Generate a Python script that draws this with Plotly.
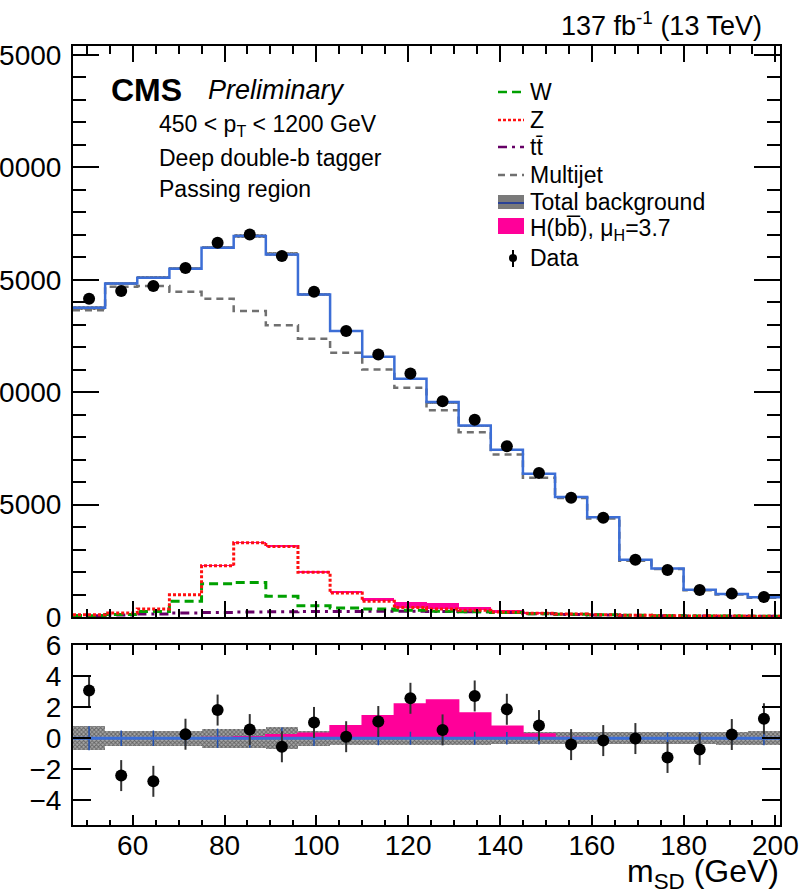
import numpy as np
import plotly.graph_objects as go

# ---------------------------------------------------------------------------
# Soft-drop jet mass binning (GeV) and per-bin contents
# ---------------------------------------------------------------------------
bin_edges = [47, 54, 61, 68, 75, 82, 89, 96, 103, 110, 117, 124,
             131, 138, 145, 152, 159, 166, 173, 180, 187, 194, 201]

data_counts = [14160, 14500, 14720, 15520, 16650, 17020, 16060, 14470, 12720, 11680, 10830,
               9600, 8770, 7600, 6410, 5300, 4410, 2550, 2090, 1200, 1040, 890]

total_bkg = [13760, 14830, 15090, 15490, 16430, 16950, 16130, 14350, 12720, 11580, 10600,
             9560, 8520, 7440, 6370, 5340, 4440, 2550, 2160, 1215, 1025, 875]

multijet = [13650, 14690, 14720, 14470, 14160, 13610, 12980, 12380, 11750, 11010, 10200,
            9200, 8220, 7230, 6190, 5290, 4380, 2500, 2130, 1190, 1005, 860]

# stacked electroweak / top contributions (cumulative levels as drawn)
z_stack = [100, 180, 360, 990, 2280, 3300, 3140, 1990, 1070, 700, 420,
           360, 300, 220, 170, 130, 100, 80, 60, 50, 40, 35]
w_stack = [60, 110, 240, 700, 1480, 1540, 920, 500, 400, 360, 300,
           260, 230, 200, 150, 120, 100, 80, 60, 50, 40, 30]
ttbar_stack = [60, 90, 130, 180, 200, 220, 230, 240, 250, 260, 260,
               250, 230, 200, 150, 110, 90, 70, 55, 45, 35, 30]

# H(bb) signal yield, stacked on top of the Z contribution
higgs_events = [0, 0, 0, 0, 5, 12, 25, 40, 90, 160, 250,
                260, 160, 80, 25, 5, 0, 0, 0, 0, 0, 0]

# lower panel: (data - bkg) / sigma
pulls = [3.08, -2.41, -2.78, 0.26, 1.82, 0.56, -0.55, 1.02, 0.10, 1.08, 2.58,
         0.54, 2.73, 1.87, 0.82, -0.41, -0.15, -0.02, -1.24, -0.72, 0.24, 1.26]
higgs_pull = [0, 0, 0, 0, 0.05, 0.10, 0.22, 0.33, 0.80, 1.45, 2.21,
              2.47, 1.63, 0.78, 0.28, 0.05, 0, 0, 0, 0, 0, 0]
bkg_unc_pull = [0.78, 0.50, 0.50, 0.50, 0.62, 0.62, 0.70, 0.50, 0.45, 0.45, 0.42,
                0.42, 0.42, 0.40, 0.40, 0.40, 0.40, 0.40, 0.38, 0.40, 0.42, 0.45]

x_ticks = [60, 80, 100, 120, 140, 160, 180, 200]
top_y_ticks = [0, 5000, 10000, 15000, 20000, 25000]
ratio_y_ticks = [-4, -2, 0, 2, 4, 6]

# ---------------------------------------------------------------------------
edges = np.array(bin_edges, dtype=float)
centers = 0.5 * (edges[:-1] + edges[1:])
widths = np.diff(edges)
data_arr = np.array(data_counts, dtype=float)
total_arr = np.array(total_bkg, dtype=float)
unc_arr = np.array(bkg_unc_pull)
top_band = unc_arr * np.sqrt(data_arr)

W_PX, H_PX = 799, 893
M_L, M_R, M_T, M_B = 73, 19, 46, 68
PLOT_W = W_PX - M_L - M_R
PLOT_H = H_PX - M_T - M_B


def px(x):
    return (x - M_L) / PLOT_W


def py(y):
    return (H_PX - M_B - y) / PLOT_H


FONT = "Liberation Sans, Arial, Helvetica, sans-serif"
BLUE = "#3c6ed6"
PINK = "#ff0099"
GREEN = "#00a000"
RED = "#ff1010"
PURPLE = "#660066"
GREY = "#707070"


def step(values):
    vals = list(values)
    return list(bin_edges), vals + [vals[-1]]


def step_line(values, color, dash, width, xa, ya):
    xs, ys = step(values)
    return go.Scatter(x=xs, y=ys, mode="lines", line_shape="hv",
                      line=dict(color=color, dash=dash, width=width),
                      xaxis=xa, yaxis=ya, showlegend=False, hoverinfo="skip")


fig = go.Figure()

# ---------------- upper panel ----------------
fig.add_trace(go.Bar(x=centers, y=higgs_events, base=z_stack, width=widths,
                     marker=dict(color=PINK, line_width=0),
                     xaxis="x2", yaxis="y2", showlegend=False))
fig.add_trace(step_line(ttbar_stack, PURPLE, "9px,5px,3px,5px", 3, "x2", "y2"))
fig.add_trace(step_line(w_stack, GREEN, "9px,5px", 3, "x2", "y2"))
fig.add_trace(step_line(z_stack, RED, "3px,2px", 3, "x2", "y2"))
fig.add_trace(step_line(multijet, GREY, "7px,5px", 2.5, "x2", "y2"))
fig.add_trace(go.Bar(x=centers, y=2 * top_band, base=total_arr - top_band, width=widths,
                     marker=dict(color="#c0c0c0", line_width=0,
                                 pattern=dict(shape="x", fgcolor="#101010", size=3, solidity=0.6)),
                     xaxis="x2", yaxis="y2", showlegend=False))
fig.add_trace(step_line(total_bkg, BLUE, "solid", 2.5, "x2", "y2"))
fig.add_trace(go.Scatter(x=centers, y=data_counts, mode="markers",
                         marker=dict(color="black", size=12),
                         error_y=dict(type="data", array=np.sqrt(data_arr), color="black",
                                      thickness=2, width=0),
                         xaxis="x2", yaxis="y2", showlegend=False))

# ---------------- lower panel ----------------
fig.add_trace(go.Bar(x=centers, y=2 * unc_arr, base=-unc_arr, width=widths,
                     marker=dict(color="#a8a8a8", line_width=0,
                                 pattern=dict(shape="x", fgcolor="#202020", size=3, solidity=0.55)),
                     xaxis="x", yaxis="y", showlegend=False))
fig.add_trace(go.Scatter(x=centers, y=np.zeros_like(centers), mode="markers",
                         marker=dict(opacity=0, size=1),
                         error_y=dict(type="data", array=unc_arr, color="#1f4fb0",
                                      thickness=1.5, width=0),
                         xaxis="x", yaxis="y", showlegend=False))
fig.add_trace(go.Bar(x=centers, y=higgs_pull, base=0, width=widths,
                     marker=dict(color=PINK, line_width=0),
                     xaxis="x", yaxis="y", showlegend=False))
fig.add_trace(step_line(higgs_pull, PINK, "solid", 1.5, "x", "y"))
fig.add_trace(step_line(np.zeros(len(centers)), BLUE, "solid", 3, "x", "y"))
fig.add_trace(go.Scatter(x=centers, y=pulls, mode="markers",
                         marker=dict(color="black", size=12),
                         error_y=dict(type="constant", value=1, color="#333333",
                                      thickness=2, width=0),
                         xaxis="x", yaxis="y", showlegend=False))

# ---------------- axes ----------------
axis_common = dict(showline=True, linecolor="black", linewidth=2, mirror="ticks",
                   ticks="inside", tickcolor="black", tickwidth=1.5,
                   showgrid=False, zeroline=False, automargin=False,
                   tickfont=dict(family=FONT, size=28, color="black"),
                   ticklabeloverflow="allow")

fig.update_layout(
    width=W_PX, height=H_PX,
    margin=dict(l=M_L, r=M_R, t=M_T, b=M_B, pad=0, autoexpand=False),
    paper_bgcolor="white", plot_bgcolor="white",
    barmode="overlay", bargap=0,
    showlegend=False,
    xaxis=dict(domain=[0, 1], anchor="y", range=[bin_edges[0], bin_edges[-1]],
               tickvals=x_ticks, ticklen=10, ticklabelstandoff=-6,
               minor=dict(dtick=5, ticklen=5, ticks="inside", tickcolor="black", tickwidth=1.5),
               **axis_common),
    yaxis=dict(domain=[0, py(645)], anchor="x", range=[-5.6, 6.02],
               tickvals=ratio_y_ticks, ticklen=18, ticklabelstandoff=4,
               **axis_common),
    xaxis2=dict(domain=[0, 1], anchor="y2", matches="x", range=[bin_edges[0], bin_edges[-1]],
                tickvals=x_ticks, ticklen=16, showticklabels=False,
                minor=dict(dtick=5, ticklen=8, ticks="inside", tickcolor="black", tickwidth=1.5),
                **axis_common),
    yaxis2=dict(domain=[py(617), 1], anchor="x2", range=[0, 25400],
                tickvals=top_y_ticks, tickformat="d", ticklen=26, ticklabelstandoff=4,
                minor=dict(dtick=1000, ticklen=13, ticks="inside", tickcolor="black", tickwidth=1.5),
                **axis_common),
)

# ---------------- text ----------------
annotations = []


def text(x, y, s, size, xanchor="left", yanchor="middle"):
    annotations.append(dict(x=px(x), y=py(y), xref="paper", yref="paper", text=s,
                            showarrow=False, xanchor=xanchor, yanchor=yanchor,
                            font=dict(family=FONT, size=size, color="black")))


text(109, 90, "<b>CMS</b>", 32)
text(206, 90, "<i>Preliminary</i>", 27)
text(157, 126, "450 < p<sub>T</sub> < 1200 GeV", 23)
text(157, 158, "Deep double-b tagger", 23)
text(157, 189, "Passing region", 23)
text(764, 24, "137 fb<sup>-1</sup> (13 TeV)", 27, xanchor="right")
text(781, 874, "m<sub>SD</sub> (GeV)", 32, xanchor="right")

# legend
legend_rows = [92, 120, 147, 175, 202, 230, 258]
legend_labels = ["W", "Z", "tt\u0304", "Multijet", "Total background",
                 "H(bb\u0305), \u03bc<sub>H</sub>=3.7", "Data"]
for yy, lab in zip(legend_rows, legend_labels):
    text(528, yy, lab, 23)

shapes = []
LX0, LX1 = 498, 524
for yy, col, dash in [(92, GREEN, "9px,5px"), (120, RED, "3px,2px"),
                      (147, PURPLE, "9px,5px,3px,5px"), (175, GREY, "7px,5px")]:
    shapes.append(dict(type="line", xref="paper", yref="paper",
                       x0=px(LX0), x1=px(LX1), y0=py(yy), y1=py(yy),
                       line=dict(color=col, dash=dash, width=2.5)))
shapes.append(dict(type="rect", xref="paper", yref="paper",
                   x0=px(LX0), x1=px(LX1), y0=py(209), y1=py(195),
                   fillcolor="#7a7a7a", line=dict(width=0)))
shapes.append(dict(type="line", xref="paper", yref="paper",
                   x0=px(LX0), x1=px(LX1), y0=py(203), y1=py(203),
                   line=dict(color="#1030a0", width=1.5)))
shapes.append(dict(type="rect", xref="paper", yref="paper",
                   x0=px(LX0), x1=px(LX1), y0=py(234), y1=py(218),
                   fillcolor=PINK, line=dict(width=0)))
shapes.append(dict(type="line", xref="paper", yref="paper",
                   x0=px(513), x1=px(513), y0=py(250), y1=py(267),
                   line=dict(color="black", width=2)))
shapes.append(dict(type="circle", xref="paper", yref="paper",
                   x0=px(509), x1=px(517), y0=py(262), y1=py(254),
                   fillcolor="black", line=dict(width=0)))

fig.update_layout(annotations=annotations, shapes=shapes)

fig.write_html("out.html")
